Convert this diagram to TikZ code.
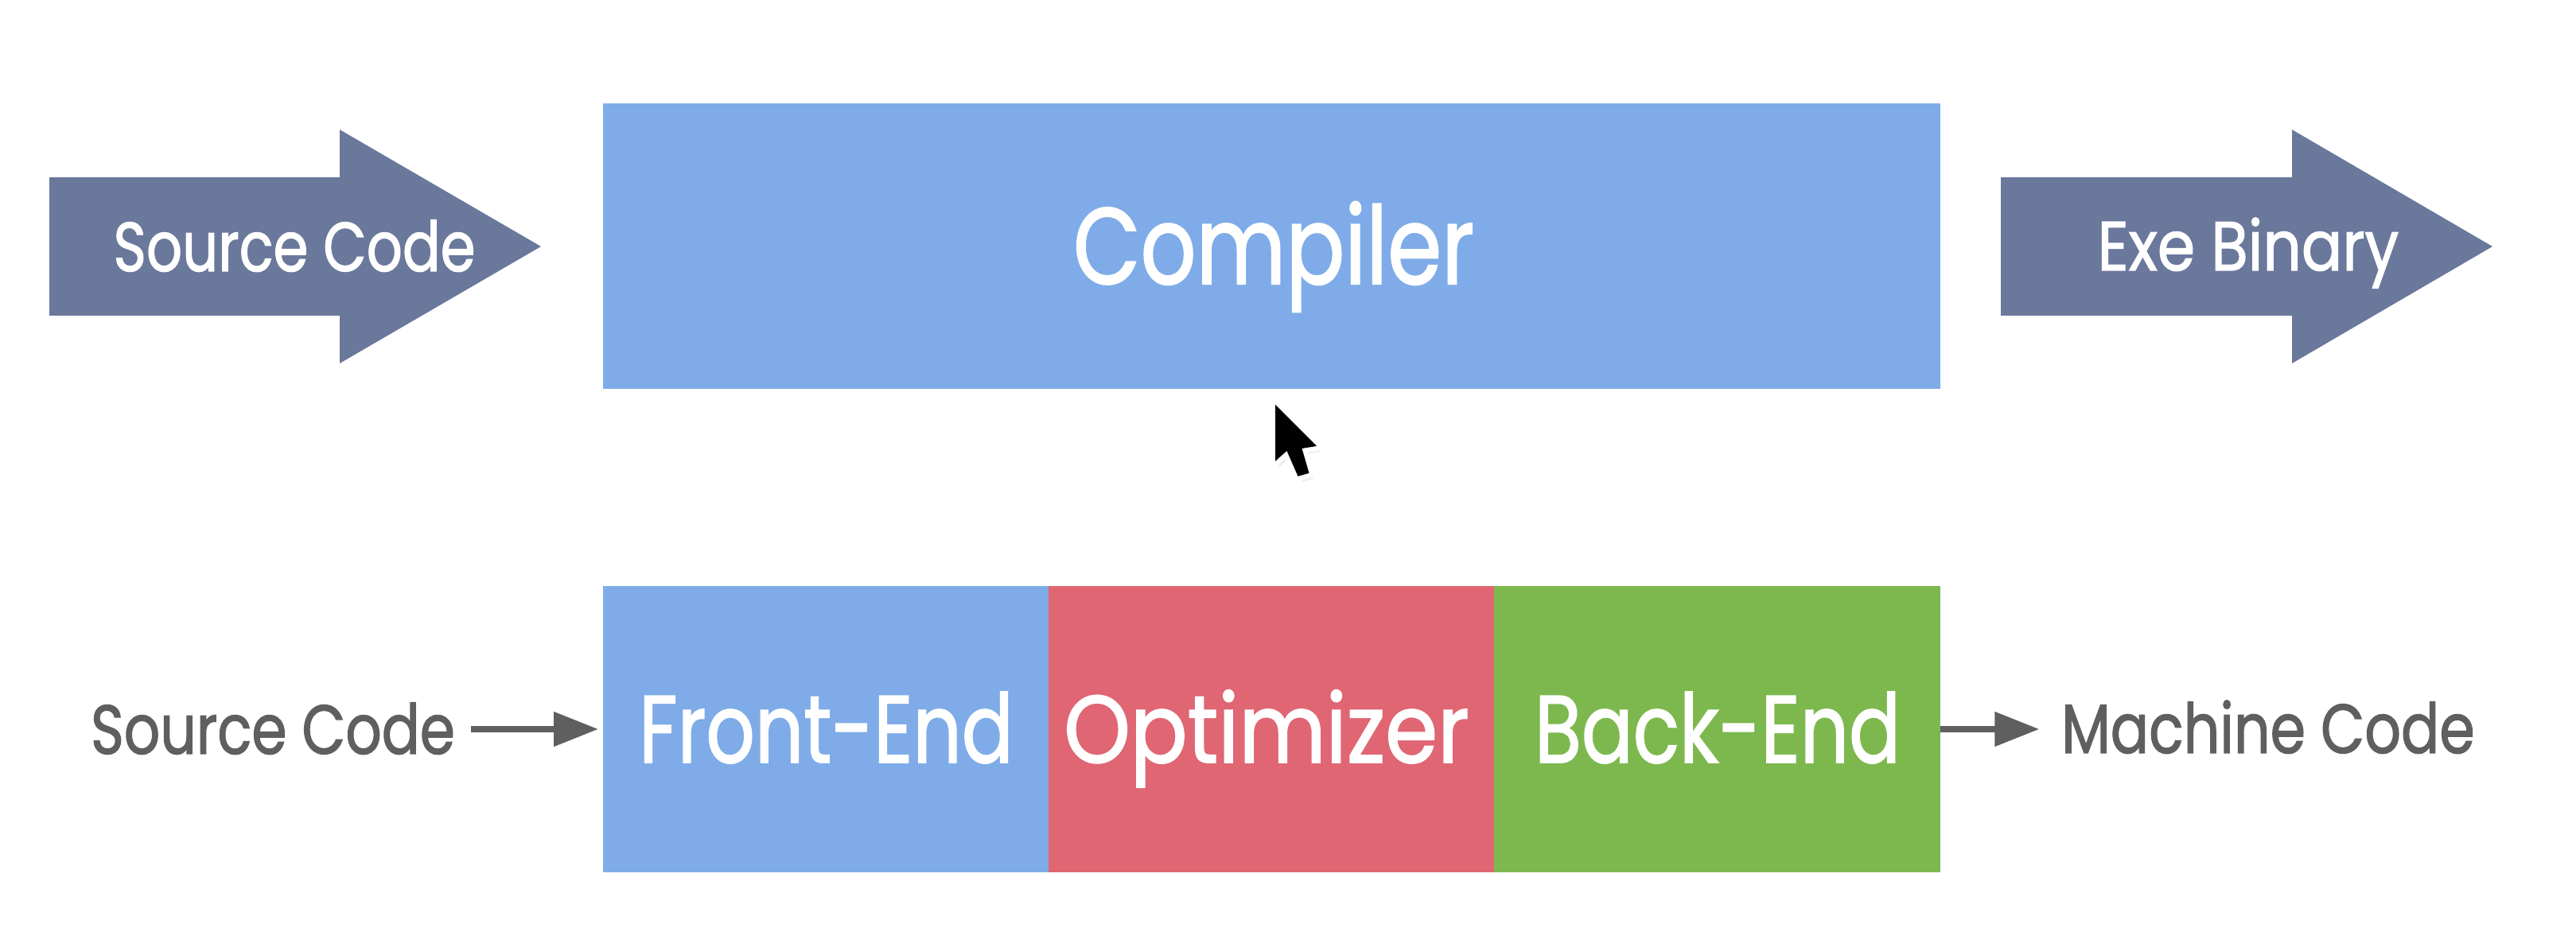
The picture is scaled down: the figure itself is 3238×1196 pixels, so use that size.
\documentclass[tikz,border=0pt]{standalone}
\usepackage{fontspec}
\setmainfont{Poppins}[FakeBold=1.6]
\usetikzlibrary{arrows.meta}
\definecolor{slate}{HTML}{6A789C}
\definecolor{cblue}{HTML}{7FACE8}
\definecolor{cred}{HTML}{E06673}
\definecolor{cgreen}{HTML}{7DB84E}
\definecolor{tgray}{HTML}{5F5F5F}
\newcommand{\sqz}[2]{\scalebox{#1}[1]{#2}}
\tikzset{
  box/.style={rectangle, inner sep=0pt, outer sep=0pt, draw=none},
  lbl/.style={inner sep=0pt, outer sep=0pt, anchor=base},
  bigtxt/.style={lbl, text=white, font=\fontsize{34}{34}\selectfont},
  midtxt/.style={lbl, text=white, font=\fontsize{30}{30}\selectfont},
  arrtxt/.style={lbl, text=white, font=\fontsize{21.8}{22}\selectfont},
  graytxt/.style={lbl, text=tgray, font=\fontsize{21.8}{22}\selectfont},
  bigarrow/.style={fill=slate, draw=none},
  conn/.style={draw=tgray, line width=2pt, -{Triangle[length=14pt,width=10.5pt]}},
}
\begin{document}
\begin{tikzpicture}[x=0.25pt, y=-0.25pt]
\useasboundingbox[fill=white] (0,0) rectangle (3238,1196);
% big arrows
\fill[bigarrow] (62,223) -- (427,223) -- (427,163) -- (680,310) -- (427,457) -- (427,397) -- (62,397) -- cycle;
\fill[bigarrow] (2515,223) -- (2881,223) -- (2881,163) -- (3133,310) -- (2881,457) -- (2881,397) -- (2515,397) -- cycle;
\node[arrtxt] (srcT) at (370,341) {\sqz{0.81}{Source Code}};
\node[arrtxt] (exeT) at (2826,340) {\sqz{0.87}{Exe Binary}};
% compiler box
\node[box, fill=cblue, minimum width=1681*0.25pt, minimum height=359*0.25pt] (comp) at (1598.5,309.5) {};
\node[bigtxt] (compT) at (1601,357) {\sqz{0.805}{Compiler}};
% pipeline boxes
\node[box, fill=cblue, minimum width=560*0.25pt, minimum height=360*0.25pt] (fe) at (1038,917) {};
\node[box, fill=cred, minimum width=560*0.25pt, minimum height=360*0.25pt] (opt) at (1598,917) {};
\node[box, fill=cgreen, minimum width=561*0.25pt, minimum height=360*0.25pt] (be) at (2158.5,917) {};
\node[midtxt] (feT) at (1038.5,959) {\sqz{0.80}{Front-End}};
\node[midtxt] (optT) at (1592,959) {\sqz{0.885}{Optimizer}};
\node[midtxt] (beT) at (2159,959) {\sqz{0.80}{Back-End}};
% side labels
\node[graytxt] (srcL) at (343,948) {\sqz{0.815}{Source Code}};
\node[graytxt] (mcL) at (2851,947) {\sqz{0.82}{Machine Code}};
\draw[conn, shorten >=1.5pt] (srcL.east |- fe.west) ++(20,0) -- (fe.west);
\draw[conn, shorten >=7pt] (be.east) -- (mcL.west |- be.east);
% cursor
\fill[black!8] (1608,516) -- (1608,587) -- (1622.5,574) -- (1636.5,606) -- (1650.5,602) -- (1641.5,571) -- (1660,568) -- cycle;
\draw[white, line width=3pt, line join=round]
  (1603,509) -- (1603,580) -- (1617.5,567) -- (1631.5,599) -- (1645.5,595) -- (1636.5,564) -- (1655,561) -- cycle;
\fill[black]
  (1603,509) -- (1603,580) -- (1617.5,567) -- (1631.5,599) -- (1645.5,595) -- (1636.5,564) -- (1655,561) -- cycle;
\end{tikzpicture}
\end{document}
